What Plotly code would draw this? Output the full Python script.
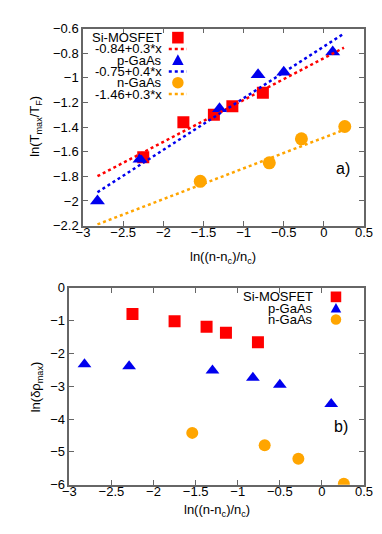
import plotly.graph_objects as go

# data
si_x = [-2.25, -1.75, -1.37, -1.14, -0.76]
si_t = [-1.645, -1.36, -1.30, -1.23, -1.12]
si_r = [-0.80, -1.02, -1.19, -1.37, -1.66]

pg_x = [-2.82, -2.29, -1.30, -0.82, -0.50, 0.11]
pg_t = [-2.0, -1.66, -1.25, -0.975, -0.955, -0.79]
pg_r = [-2.33, -2.39, -2.52, -2.74, -2.95, -3.54]

ng_x = [-1.54, -0.68, -0.28, 0.26]
ng_t = [-1.84, -1.69, -1.495, -1.395]
ng_r = [-4.42, -4.80, -5.21, -5.97]

fit_x = [-2.82, 0.25]
fit_names = ['-0.84+0.3*x', '-0.75+0.4*x', '-1.46+0.3*x']
fit_a = [-0.84, -0.745, -1.485]
fit_b = [0.34, 0.42, 0.25]

RED = '#ff0000'
BLUE = '#0000ee'
ORANGE = '#ffa500'
FONT = 'Liberation Sans, Arial, sans-serif'
W, H = 382, 534

fig = go.Figure()

fig.add_trace(go.Scatter(x=si_x, y=si_t, mode='markers', xaxis='x', yaxis='y',
                         marker=dict(symbol='square', size=12, color=RED)))
fig.add_trace(go.Scatter(x=pg_x, y=pg_t, mode='markers', xaxis='x', yaxis='y',
                         marker=dict(symbol='triangle-up', size=13, color=BLUE)))
fig.add_trace(go.Scatter(x=ng_x, y=ng_t, mode='markers', xaxis='x', yaxis='y',
                         marker=dict(symbol='circle', size=13, color=ORANGE)))
for a, b, c in zip(fit_a, fit_b, [RED, BLUE, ORANGE]):
    fig.add_trace(go.Scatter(x=fit_x, y=[a + b * v for v in fit_x], mode='lines',
                             xaxis='x', yaxis='y',
                             line=dict(color=c, width=2.5, dash='dot')))

fig.add_trace(go.Scatter(x=si_x, y=si_r, mode='markers', xaxis='x2', yaxis='y2',
                         marker=dict(symbol='square', size=12, color=RED)))
fig.add_trace(go.Scatter(x=pg_x, y=pg_r, mode='markers', xaxis='x2', yaxis='y2',
                         marker=dict(symbol='triangle-up', size=12, color=BLUE)))
fig.add_trace(go.Scatter(x=ng_x, y=ng_r, mode='markers', xaxis='x2', yaxis='y2',
                         marker=dict(symbol='circle', size=12, color=ORANGE)))

ax = dict(showline=True, linecolor='#666666', linewidth=1.5, mirror='ticks',
          ticks='inside', ticklen=5, tickcolor='#666666', tickwidth=1,
          showgrid=False, zeroline=False,
          tickfont=dict(family=FONT, size=13, color='black'))
xax = dict(ax, range=[-3, 0.5], dtick=0.5, ticklabelstandoff=-6)

fig.update_layout(
    width=W, height=H, showlegend=False,
    plot_bgcolor='white', paper_bgcolor='white',
    margin=dict(l=0, r=0, t=0, b=0),
    font=dict(family=FONT, size=13, color='black'),
    xaxis=dict(xax, domain=[71 / W, 364.3 / W], anchor='y'),
    yaxis=dict(ax, domain=[1 - 216.7 / H, 1 - 14 / H], anchor='x', range=[-2.2, -0.6], dtick=0.2),
    xaxis2=dict(xax, domain=[56.7 / W, 364.3 / W], anchor='y2'),
    yaxis2=dict(ax, domain=[1 - 483.3 / H, 1 - 280.7 / H], anchor='x2', range=[-6, 0], dtick=1),
)


def px(x, y):
    return x / W, 1 - y / H


def text(x, y, s, anchor='right', size=13, angle=0):
    xp, yp = px(x, y)
    fig.add_annotation(x=xp, y=yp, xref='paper', yref='paper', text=s, showarrow=False,
                       xanchor=anchor if angle == 0 else 'center', yanchor='middle',
                       textangle=angle, font=dict(family=FONT, size=size, color='black'))


def key(kind, cx, cy, color, s=12):
    x0, y0 = px(cx - s / 2, cy + s / 2)
    x1, y1 = px(cx + s / 2, cy - s / 2)
    if kind == 'square':
        fig.add_shape(type='rect', xref='paper', yref='paper', x0=x0, y0=y0, x1=x1, y1=y1,
                      fillcolor=color, line_width=0)
    elif kind == 'circle':
        fig.add_shape(type='circle', xref='paper', yref='paper', x0=x0, y0=y0, x1=x1, y1=y1,
                      fillcolor=color, line_width=0)
    elif kind == 'triangle':
        ax_, ay_ = px(cx, cy - s / 2)
        bx_, by_ = px(cx - s / 2, cy + s / 2 - 1)
        cx_, cy_ = px(cx + s / 2, cy + s / 2 - 1)
        fig.add_shape(type='path', xref='paper', yref='paper',
                      path=f'M {ax_} {ay_} L {bx_} {by_} L {cx_} {cy_} Z',
                      fillcolor=color, line_width=0)
    else:
        lx0, ly = px(cx - 9.5, cy)
        lx1, _ = px(cx + 9.5, cy)
        fig.add_shape(type='line', xref='paper', yref='paper', x0=lx0, y0=ly, x1=lx1, y1=ly,
                      line=dict(color=color, width=2.5, dash='dot'))


# top legend
rows = [23.3, 34.9, 46.5, 58.1, 69.7, 81.3]
labels = ['Si-MOSFET', fit_names[0], 'p-GaAs', fit_names[1], 'n-GaAs', fit_names[2]]
kinds = ['square', 'line', 'triangle', 'line', 'circle', 'line']
colors = [RED, RED, BLUE, BLUE, ORANGE, ORANGE]
for r, l, k, c in zip(rows, labels, kinds, colors):
    text(155, r, l)
    key(k, 170, r, c)

# bottom legend
rows2 = [290, 301.7, 313.3]
for r, l, k, c in zip(rows2, ['Si-MOSFET', 'p-GaAs', 'n-GaAs'], ['square', 'triangle', 'circle'],
                      [RED, BLUE, ORANGE]):
    text(313, r, l)
    key(k, 335, r, c, s=11)

# axis titles and panel labels
text(22, 115, 'ln(T<sub>max</sub>/T<sub>F</sub>)', angle=-90, size=13)
text(217, 249, 'ln((n-n<sub>c</sub>)/n<sub>c</sub>)', anchor='center', size=13)
text(22, 383, 'ln(δρ<sub>max</sub>)', angle=-90, size=13)
text(211, 510, 'ln((n-n<sub>c</sub>)/n<sub>c</sub>)', anchor='center', size=13)
text(342, 158, 'a)', anchor='center', size=16)
text(340, 423, 'b)', anchor='center', size=16)

fig.write_html("out.html")
